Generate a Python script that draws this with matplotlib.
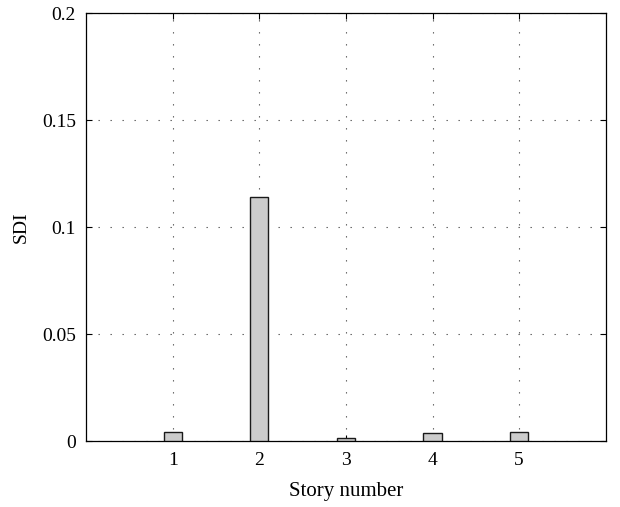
import matplotlib
matplotlib.use("Agg")
import matplotlib.pyplot as plt

plt.rcParams['font.family'] = ['Liberation Serif', 'DejaVu Serif']

# story numbers and damage index values
stories = [1, 2, 3, 4, 5]
sdi = [0.0042, 0.1143, 0.0013, 0.0036, 0.0042]

fig = plt.figure(figsize=(6.2, 5.07), dpi=100)
ax = fig.add_axes([0.139, 0.130, 0.838, 0.844])

ax.bar(stories, sdi, width=0.21, color='#cccccc', edgecolor='#1a1a1a', linewidth=1.0, zorder=3)

ax.set_xlim(0, 6)
ax.set_ylim(0, 0.2)
ax.set_xticks(stories)
ax.set_yticks([0, 0.05, 0.1, 0.15, 0.2])
ax.set_yticklabels(['0', '0.05', '0.1', '0.15', '0.2'])
ax.grid(True, linestyle=(0, (1.2, 9.6)), color='#555555', linewidth=0.8)
ax.tick_params(direction='in', length=4, labelsize=14, top=True, right=True)
ax.tick_params(axis='x', pad=8)
ax.tick_params(axis='y', pad=7.5)
for s in ax.spines.values():
    s.set_linewidth(0.9)

ax.set_xlabel('Story number', fontsize=15, labelpad=9)
ax.set_ylabel('SDI', fontsize=14, labelpad=9)

fig.savefig('out.png', dpi=100)
